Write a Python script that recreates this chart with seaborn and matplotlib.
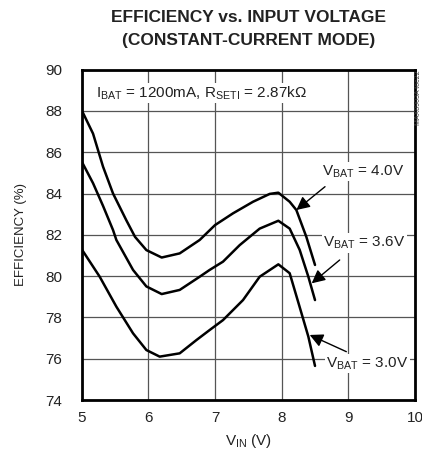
import matplotlib
matplotlib.use("Agg")
import matplotlib.pyplot as plt
import seaborn as sns
import pandas as pd

# ---- data ----
vin_40 = [5.00, 5.02, 5.17, 5.32, 5.47, 5.67, 5.80, 5.97, 6.20, 6.47, 6.77, 7.00, 7.27, 7.57, 7.82, 7.95, 8.12, 8.22, 8.37, 8.50]
eff_40 = [88.0, 87.9, 86.9, 85.3, 84.0, 82.7, 81.9, 81.26, 80.9, 81.1, 81.75, 82.47, 83.04, 83.6, 83.98, 84.04, 83.6, 83.2, 81.9, 80.54]

vin_36 = [5.00, 5.17, 5.32, 5.47, 5.52, 5.77, 5.97, 6.20, 6.47, 6.77, 6.92, 7.12, 7.37, 7.67, 7.95, 8.12, 8.27, 8.40, 8.50]
eff_36 = [85.55, 84.5, 83.4, 82.23, 81.75, 80.3, 79.5, 79.13, 79.33, 79.97, 80.3, 80.7, 81.5, 82.3, 82.68, 82.3, 81.27, 79.97, 78.84]

vin_30 = [5.00, 5.27, 5.52, 5.77, 5.97, 6.17, 6.47, 6.72, 6.92, 7.12, 7.42, 7.67, 7.95, 8.12, 8.27, 8.40, 8.50]
eff_30 = [81.3, 79.97, 78.52, 77.23, 76.42, 76.1, 76.26, 76.9, 77.39, 77.87, 78.84, 79.97, 80.57, 80.14, 78.5, 77.07, 75.65]

series_labels = ["4.0V", "3.6V", "3.0V"]
x_ticks = [5, 6, 7, 8, 9, 10]
y_ticks = [74, 76, 78, 80, 82, 84, 86, 88, 90]

df = pd.concat([
    pd.DataFrame({"vin": vin_40, "eff": eff_40, "vbat": series_labels[0]}),
    pd.DataFrame({"vin": vin_36, "eff": eff_36, "vbat": series_labels[1]}),
    pd.DataFrame({"vin": vin_30, "eff": eff_30, "vbat": series_labels[2]}),
], ignore_index=True)

sns.set_theme(style="white")
plt.rcParams["font.family"] = ["Liberation Sans", "DejaVu Sans"]
plt.rcParams["mathtext.default"] = "regular"

fig = plt.figure(figsize=(4.22, 4.62), dpi=100)
ax = fig.add_axes([81.7 / 422, (462 - 400) / 462, (415 - 81.7) / 422, (400 - 69.6) / 462])

sns.lineplot(data=df, x="vin", y="eff", hue="vbat", palette=["black"] * 3,
             sort=False, estimator=None, linewidth=1.8, legend=False, ax=ax, zorder=3)

ax.set_xlim(5, 10)
ax.set_ylim(74, 90)
ax.set_xticks(x_ticks)
ax.set_yticks(y_ticks)
ax.set_xticklabels([str(t) for t in x_ticks])
ax.set_yticklabels([str(t) for t in y_ticks])
ax.grid(True, color="#555555", linewidth=0.9)
ax.set_axisbelow(True)
for s in ax.spines.values():
    s.set_visible(True)
    s.set_color("black")
    s.set_linewidth(2.0)
ax.tick_params(axis="both", length=0, labelsize=11, colors="#222222")
ax.tick_params(axis="y", pad=14)
ax.tick_params(axis="x", pad=8)

ax.set_xlabel("$V_{IN}$ (V)", fontsize=11, color="#222222", labelpad=5)
ax.set_ylabel("EFFICIENCY (%)", fontsize=9.5, color="#222222", labelpad=13)

fig.text((81.7 + 415) / 2 / 422, 1 - 18 / 462, "EFFICIENCY vs. INPUT VOLTAGE",
         ha="center", va="center", fontsize=12.5, fontweight="bold", color="#222222")
fig.text((81.7 + 415) / 2 / 422, 1 - 40 / 462, "(CONSTANT-CURRENT MODE)",
         ha="center", va="center", fontsize=12.5, fontweight="bold", color="#222222")

box = dict(facecolor="white", edgecolor="none", pad=1.0)
ax.text(5.22, 88.85, "$I_{BAT}$ = 1200mA, $R_{SETI}$ = 2.87k$\\Omega$", fontsize=11,
        ha="left", va="center", color="#222222", bbox=box, zorder=4)
ax.text(8.6, 85.05, "$V_{BAT}$ = 4.0V", fontsize=11, ha="left", va="center",
        color="#222222", bbox=box, zorder=4)
ax.text(8.62, 81.6, "$V_{BAT}$ = 3.6V", fontsize=11, ha="left", va="center",
        color="#222222", bbox=box, zorder=4)
ax.text(8.67, 75.75, "$V_{BAT}$ = 3.0V", fontsize=11, ha="left", va="center",
        color="#222222", bbox=box, zorder=4)

arrow = dict(arrowstyle="-|>", color="black", lw=1.0, mutation_scale=20, shrinkA=0, shrinkB=0)
ax.annotate("", xy=(8.22, 83.2), xytext=(8.65, 84.33), arrowprops=arrow, zorder=5)
ax.annotate("", xy=(8.45, 79.65), xytext=(8.87, 80.78), arrowprops=arrow, zorder=5)
ax.annotate("", xy=(8.42, 77.15), xytext=(8.97, 76.34), arrowprops=arrow, zorder=5)

fig.text(418.5 / 422, 1 - 70 / 462, "MAX8903A toc22", rotation=90, ha="center", va="top",
         fontsize=5, color="#444444")

fig.savefig("out.png", dpi=100)
